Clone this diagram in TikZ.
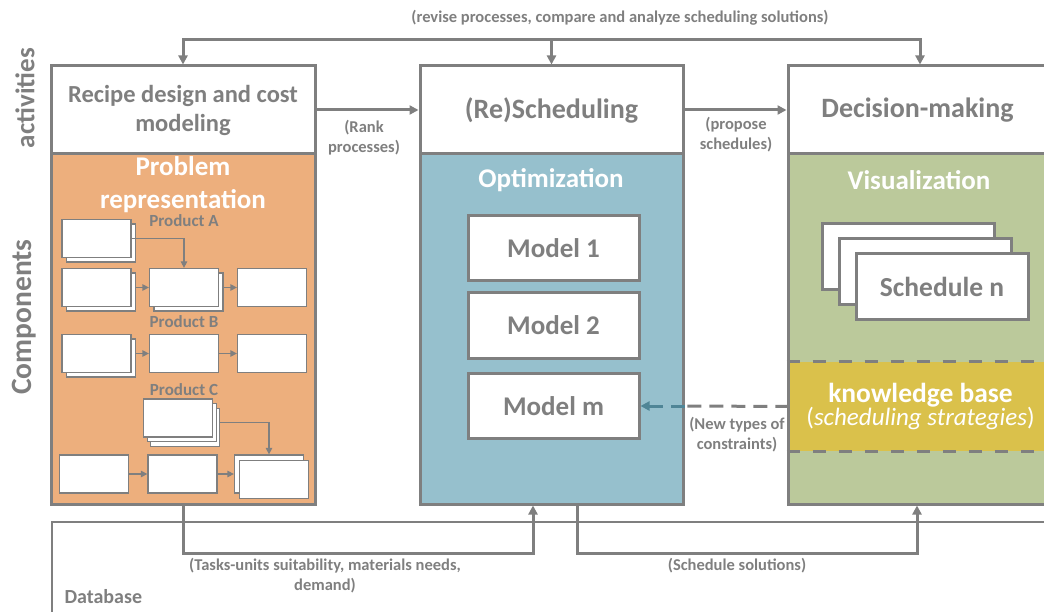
\documentclass[tikz,border=0pt]{standalone}
\usepackage{fontspec}
\setmainfont{Carlito}
\usetikzlibrary{arrows.meta}
\definecolor{lgray}{HTML}{7F7F7F}
\definecolor{orangefill}{HTML}{EDAF7D}
\definecolor{bluefill}{HTML}{96C0CD}
\definecolor{greenfill}{HTML}{BBC99B}
\definecolor{kbfill}{HTML}{DAC14B}
\definecolor{tealtip}{HTML}{4F8596}
\begin{document}
\begin{tikzpicture}[x=1pt,y=-1pt,
  mainbox/.style={draw=lgray,line width=3pt,inner sep=0pt,minimum width=264pt},
  actbox/.style={mainbox,fill=white,minimum height=88pt,align=center,text=lgray,
    font=\bfseries\fontsize{28}{30}\selectfont},
  compbox/.style={mainbox,minimum height=350pt},
  head/.style={text=white,align=center,font=\bfseries\fontsize{27}{33}\selectfont},
  model/.style={draw=lgray,line width=3pt,fill=white,inner sep=0pt,minimum width=171pt,
    minimum height=65pt,text=lgray,font=\bfseries\fontsize{27}{30}\selectfont},
  sched/.style={model,minimum width=172pt,minimum height=66pt},
  tbox/.style={draw=lgray,line width=1.3pt,fill=white,inner sep=0pt,minimum width=69pt,
    minimum height=38pt},
  small/.style={text=lgray,align=center,font=\bfseries\fontsize{16.5}{20}\selectfont},
  prod/.style={text=lgray,font=\bfseries\fontsize{17}{20}\selectfont},
  side/.style={text=lgray,rotate=90,font=\bfseries\fontsize{29.5}{32}\selectfont},
  flow/.style={draw=lgray,line width=3pt,-{Triangle[length=9pt,width=9pt]}},
  thin/.style={draw=lgray,line width=1.3pt,-{Triangle[length=6.5pt,width=6.5pt]}},
  kbline/.style={draw=lgray,line width=3pt,dash pattern=on 13pt off 13pt},
]
\useasboundingbox (0,0) rectangle (1044,612);
\clip (0,0) rectangle (1044,612);

% side captions
\node[side,font=\bfseries\fontsize{27}{30}\selectfont] (lact) at (25,98) {activities};
\node[side] (lcomp) at (24,317) {Components};

% database frame
\draw[lgray,line width=1.3pt] (1050,522) -- (52,522) -- (52,620);
\node[anchor=west,text=lgray,font=\bfseries\fontsize{20}{23}\selectfont] (db) at (61,597) {Database};

% component panels
\node[compbox,fill=orangefill] (comp1) at (183,329) {};
\node[compbox,fill=bluefill,minimum width=263pt] (comp2) at (551.5,329) {};
\node[compbox,fill=greenfill] (comp3) at (920,329) {};

% activity boxes
\node[actbox,font=\bfseries\fontsize{24.5}{29}\selectfont] (act1) at (183,110)
  {Recipe design and cost\\modeling};
\node[actbox,minimum width=263pt] (act2) at (551.5,110) {(Re)Scheduling};
\node[actbox] (act3) at (920,110) {\hspace*{-5pt}Decision-making};

% panel headings
\node[head] (hprob) at (183,185) {Problem\\representation};
\node[head] (hopt) at (551,180) {Optimization};
\node[head] (hvis) at (919,180) {Visualization};

% optimization models
\node[model] (model1) at (553.5,248.5) {Model 1};
\node[model] (model2) at (553.5,325.5) {Model 2};
\node[model] (modelm) at (553.5,406) {Model m};

% stacked schedules
\node[sched] (s1) at (908,257) {};
\node[sched] (s2) at (925,272) {};
\node[sched,font=\bfseries\fontsize{27.5}{30}\selectfont] (s3) at (942,286.5) {Schedule n};

% knowledge base band
\node[fill=kbfill,inner sep=0pt,minimum width=262pt,minimum height=89pt,align=center,
  text=white] (kb) at (920.5,406.5)
  {{\bfseries\fontsize{27.5}{32}\selectfont knowledge base}\\
   {\fontsize{25}{32}\selectfont (\textit{scheduling strategies})}};
\draw[kbline] (kb.north west -| comp3.west) -- (kb.north east);
\draw[kbline] (kb.south west -| comp3.west) -- (kb.south east);

% problem representation: product A
\node[prod] (pa) at (184,221) {Product A};
\node[tbox] (a1b) at (101,243) {};
\node[tbox] (a1) at (96.5,238.5) {};
\node[tbox] (a2b) at (101,292) {};
\node[tbox] (a2) at (96.5,287.5) {};
\node[tbox] (a3b) at (188.5,292) {};
\node[tbox] (a3) at (184,287.5) {};
\node[tbox] (a4) at (272,287.5) {};
\draw[thin] (a1.east) -| (a3.north);
\draw[thin] (a2.east -| a2b.east) -- (a3.west);
\draw[thin] (a3.east -| a3b.east) -- (a4.west);

% product B
\node[prod] (pb) at (184,322) {Product B};
\node[tbox] (b1b) at (101,358) {};
\node[tbox] (b1) at (96.5,353.5) {};
\node[tbox] (b2) at (184,353.5) {};
\node[tbox] (b3) at (272,353.5) {};
\draw[thin] (b1.east -| b1b.east) -- (b2.west);
\draw[thin] (b2.east) -- (b3.west);

% product C
\node[prod] (pc) at (184,390) {Product C};
\node[tbox] (c1c) at (185,427.5) {};
\node[tbox] (c1b) at (182,422.5) {};
\node[tbox] (c1) at (178,418) {};
\node[tbox] (d1) at (94,474) {};
\node[tbox] (d2) at (182.5,474) {};
\node[tbox] (d3b) at (269,474) {};
\node[tbox] (d3) at (274,479.5) {};
\draw[thin] (c1b.east -| c1c.east) -| (d3b.north);
\draw[thin] (d1.east) -- (d2.west);
\draw[thin] (d2.east) -- (d3b.west);

% feedback loop across activities
\coordinate (top) at (551.5,40);
\draw[flow] (top) -| (act1.north);
\draw[flow] (top) -| (act3.north);
\draw[flow] (top) -- (act2.north);
\node[small] (ltop) at (620,18) {(revise processes, compare and analyze scheduling solutions)};

% forward flow between activities
\draw[flow] (act1.east) -- (act2.west);
\node[small] (lrank) at (364,138) {(Rank\\processes)};
\draw[flow] (act2.east) -- (act3.west);
\node[small] (lprop) at (736,135) {(propose\\schedules)};

% new constraints fed back to the models
\coordinate (kbin) at (comp2.east |- modelm.east);
\draw[lgray,line width=3pt,dash pattern=on 14pt off 8pt] (kb.west) -- (kbin);
\draw[tealtip,line width=3pt,dash pattern=on 14pt off 8pt,-{Triangle[length=9pt,width=9pt]}]
  (kbin) -- (modelm.east);
\node[small] (lnew) at (737,435) {(New types of\\constraints)};

% data exchanged through the database
\draw[flow] (comp1.south) -- ++(0,48) -| ([xshift=-18.5pt]comp2.south);
\draw[flow] ([xshift=25.5pt]comp2.south) -- ++(0,48) -| ([xshift=-3pt]comp3.south);
\node[small] (ltask) at (325,576) {(Tasks-units suitability, materials needs,\\demand)};
\node[small] (lsol) at (737,566) {(Schedule solutions)};
\end{tikzpicture}
\end{document}
